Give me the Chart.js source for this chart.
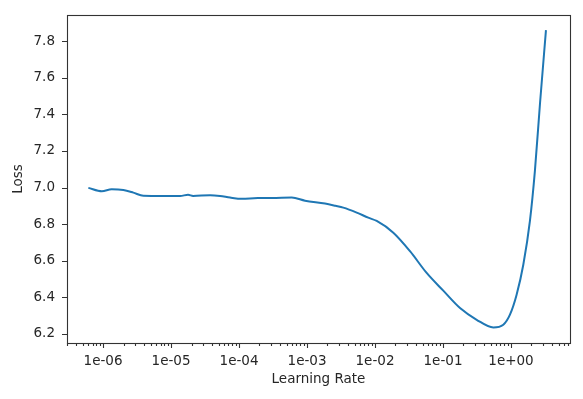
<!DOCTYPE html>
<html>
<head>
<meta charset="utf-8">
<script src="https://cdn.jsdelivr.net/npm/chart.js@4.4.1/dist/chart.umd.min.js"></script>
<style>
  html, body { margin: 0; padding: 0; background: #fff; }
  #wrap { width: 583px; height: 399px; }
</style>
</head>
<body>
<div id="wrap"><canvas id="c" width="583" height="399"></canvas></div>
<script>
// Learning rate (x) and smoothed loss (y)
const learningRates = [
  6.08e-7, 9.6e-7, 1.34e-6, 1.99e-6, 2.79e-6, 3.92e-6, 7.6e-6, 1.36e-5, 1.78e-5, 2.11e-5,
  3.75e-5, 5.26e-5, 7.38e-5, 1.10e-4, 1.90e-4, 3.03e-4, 5.96e-4, 9.35e-4, 1.84e-3, 2.62e-3,
  3.42e-3, 5.38e-3, 7.96e-3, 1.06e-2, 1.86e-2, 3.27e-2, 5.75e-2, 0.101, 0.178, 0.313,
  0.55, 0.771, 0.966, 1.21, 1.52, 1.90, 2.25, 2.67, 3.27
];
const losses = [
  6.998, 6.980, 6.990, 6.986, 6.972, 6.955, 6.954, 6.954, 6.960, 6.954,
  6.958, 6.954, 6.945, 6.938, 6.942, 6.942, 6.945, 6.928, 6.912, 6.900,
  6.890, 6.863, 6.835, 6.817, 6.753, 6.652, 6.533, 6.436, 6.341, 6.277,
  6.235, 6.250, 6.305, 6.414, 6.579, 6.817, 7.092, 7.458, 7.860
];
// Tick labels
const xMajorTicks = [1e-6, 1e-5, 1e-4, 1e-3, 1e-2, 1e-1, 1e0];
const xMajorLabels = ['1e-06', '1e-05', '1e-04', '1e-03', '1e-02', '1e-01', '1e+00'];
const yTicks = [6.2, 6.4, 6.6, 6.8, 7.0, 7.2, 7.4, 7.6, 7.8];
const yTickLabels = ['6.2', '6.4', '6.6', '6.8', '7.0', '7.2', '7.4', '7.6', '7.8'];

const X_MIN = 2.95e-7, X_MAX = 7.38;
const Y_MIN = 6.15, Y_MAX = 7.943;
const FONT = 'DejaVu Sans';
const TEXT = '#262626';

// minor ticks (2..9 in each decade) inside the axis range
const xMinorTicks = [];
for (let e = -7; e <= 0; e++) {
  for (let m = 2; m <= 9; m++) {
    const v = m * Math.pow(10, e);
    if (v >= X_MIN && v <= X_MAX) xMinorTicks.push(v);
  }
}

const frameAndTicks = {
  id: 'frameAndTicks',
  afterDraw(chart) {
    const ctx = chart.ctx;
    const a = chart.chartArea;
    const xs = chart.scales.x, ys = chart.scales.y;
    ctx.save();
    ctx.strokeStyle = '#333';
    ctx.lineWidth = 1.1;
    ctx.beginPath();
    xMajorTicks.forEach(v => {
      const px = Math.round(xs.getPixelForValue(v)) + 0.5;
      ctx.moveTo(px, a.bottom); ctx.lineTo(px, a.bottom + 5);
    });
    xMinorTicks.forEach(v => {
      const px = Math.round(xs.getPixelForValue(v)) + 0.5;
      ctx.moveTo(px, a.bottom); ctx.lineTo(px, a.bottom + 3);
    });
    yTicks.forEach(v => {
      const py = Math.round(ys.getPixelForValue(v)) + 0.5;
      ctx.moveTo(a.left, py); ctx.lineTo(a.left - 5, py);
    });
    ctx.stroke();
    ctx.strokeRect(Math.round(a.left) + 0.5, Math.round(a.top) + 0.5,
                   Math.round(a.right - a.left), Math.round(a.bottom - a.top));
    ctx.restore();
  }
};

new Chart(document.getElementById('c'), {
  type: 'line',
  data: {
    datasets: [{
      data: learningRates.map((lr, i) => ({ x: lr, y: losses[i] })),
      borderColor: '#1f77b4',
      borderWidth: 2,
      pointRadius: 0,
      fill: false,
      cubicInterpolationMode: 'monotone'
    }]
  },
  options: {
    responsive: false,
    animation: false,
    devicePixelRatio: 1,
    layout: { padding: { left: 0, top: 15, right: 13, bottom: 0 } },
    plugins: { legend: { display: false }, tooltip: { enabled: false } },
    scales: {
      x: {
        type: 'logarithmic',
        min: X_MIN, max: X_MAX,
        afterBuildTicks(scale) { scale.ticks = xMajorTicks.map(v => ({ value: v })); },
        afterFit(scale) {
          scale.height = 56;
          scale.paddingLeft = 0; scale.paddingRight = 0;
          scale.paddingTop = 0; scale.paddingBottom = 0;
        },
        grid: { display: false, drawTicks: false },
        border: { display: false },
        ticks: {
          autoSkip: false, maxRotation: 0, minRotation: 0, padding: 10,
          color: TEXT, font: { family: FONT, size: 13.5 },
          callback(value) { const i = xMajorTicks.indexOf(value); return i >= 0 ? xMajorLabels[i] : ''; }
        },
        title: {
          display: true, text: 'Learning Rate', color: TEXT,
          font: { family: FONT, size: 13.5 }, padding: { top: 0, bottom: 11 }
        }
      },
      y: {
        type: 'linear',
        min: Y_MIN, max: Y_MAX,
        afterBuildTicks(scale) { scale.ticks = yTicks.map(v => ({ value: v })); },
        afterFit(scale) {
          scale.width = 67;
          scale.paddingLeft = 0; scale.paddingRight = 0;
          scale.paddingTop = 0; scale.paddingBottom = 0;
        },
        grid: { display: false, drawTicks: false },
        border: { display: false },
        ticks: {
          padding: 12, color: TEXT, font: { family: FONT, size: 13.5 },
          callback(value) { const i = yTicks.findIndex(t => Math.abs(t - value) < 1e-9); return i >= 0 ? yTickLabels[i] : ''; }
        },
        title: {
          display: true, text: 'Loss', color: TEXT,
          font: { family: FONT, size: 13.5 }, padding: { top: 10, bottom: 0 }
        }
      }
    }
  },
  plugins: [frameAndTicks]
});
</script>
</body>
</html>
